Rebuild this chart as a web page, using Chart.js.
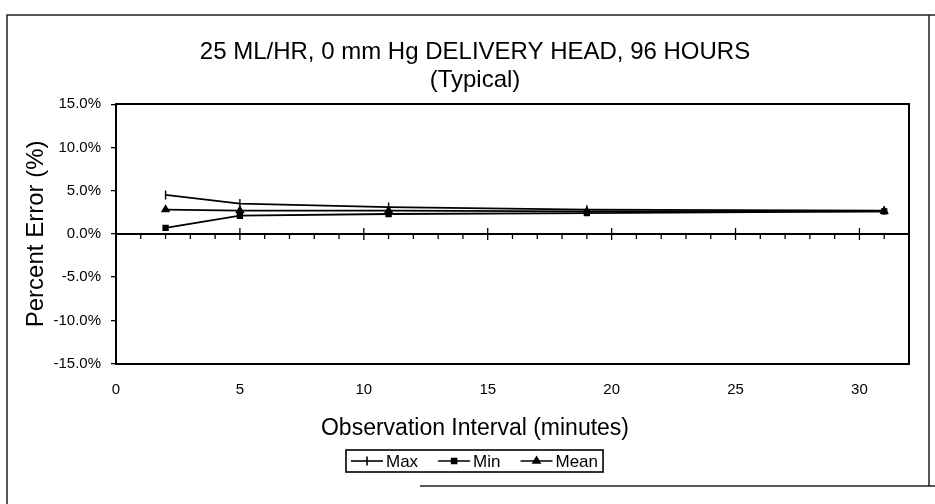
<!DOCTYPE html>
<html>
<head>
<meta charset="utf-8">
<title>25 ML/HR, 0 mm Hg Delivery Head, 96 Hours</title>
<script src="https://cdn.jsdelivr.net/npm/chart.js@4.4.1/dist/chart.umd.min.js"></script>
<style>
  html, body { margin: 0; padding: 0; background: #fff; }
  #wrap { position: relative; width: 935px; height: 504px; }
</style>
</head>
<body>
<div id="wrap"><canvas id="errorChart" width="935" height="504"></canvas></div>
<script>
// observation interval (minutes) and percent error per interval
const intervals = [2, 5, 11, 19, 31];
const errorMax = [4.5, 3.5, 3.1, 2.8, 2.7];
const errorMin = [0.7, 2.1, 2.3, 2.4, 2.6];
const errorMean = [2.8, 2.7, 2.7, 2.6, 2.6];
const seriesNames = ['Max', 'Min', 'Mean'];
const xTicks = [0, 5, 10, 15, 20, 25, 30];
const yTicks = [-15, -10, -5, 0, 5, 10, 15];
const titleLines = ['25 ML/HR, 0 mm Hg DELIVERY HEAD, 96 HOURS', '(Typical)'];

// marker look for each series, same order as seriesNames
const markers = [
    { pointStyle: 'line', rotation: 90, radius: 4.5 },
    { pointStyle: 'rect', rotation: 0, radius: 3.5 },
    { pointStyle: 'triangle', rotation: 0, radius: 4 }
];
const INK = '#000';
const FONT = '"Liberation Sans", Arial, Helvetica, sans-serif';

Chart.defaults.font.family = FONT;
Chart.defaults.color = INK;

function toPoints(values) {
    return intervals.map((x, i) => ({ x: x, y: values[i] }));
}

const datasets = [errorMax, errorMin, errorMean].map((values, i) => ({
    label: seriesNames[i],
    data: toPoints(values),
    borderColor: INK,
    backgroundColor: INK,
    pointBackgroundColor: INK,
    pointBorderColor: INK,
    borderWidth: 1.8,
    pointBorderWidth: 1.4,
    pointStyle: markers[i].pointStyle,
    pointRotation: markers[i].rotation,
    pointRadius: markers[i].radius,
    tension: 0
}));

// white page and the scanned outer frame
const pageFrame = {
    id: 'pageFrame',
    beforeDraw(chart) {
        const ctx = chart.ctx;
        ctx.save();
        ctx.fillStyle = '#fff';
        ctx.fillRect(0, 0, chart.width, chart.height);
        ctx.strokeStyle = '#222';
        ctx.lineWidth = 1.5;
        ctx.beginPath();
        ctx.moveTo(7, chart.height);
        ctx.lineTo(7, 15);
        ctx.lineTo(chart.width, 15);
        ctx.moveTo(929, 15);
        ctx.lineTo(929, 486);
        ctx.moveTo(420, 486);
        ctx.lineTo(chart.width, 486);
        ctx.stroke();
        ctx.restore();
    }
};

// x axis line crossing at 0% with minor ticks every minute
const zeroAxis = {
    id: 'zeroAxis',
    beforeDatasetsDraw(chart) {
        const { ctx, chartArea, scales } = chart;
        const y0 = scales.y.getPixelForValue(0);
        ctx.save();
        ctx.strokeStyle = INK;
        ctx.lineWidth = 2;
        ctx.beginPath();
        ctx.moveTo(chartArea.left, y0);
        ctx.lineTo(chartArea.right, y0);
        ctx.stroke();
        ctx.lineWidth = 1.3;
        ctx.beginPath();
        for (let v = scales.x.min + 1; v < scales.x.max; v++) {
            const px = scales.x.getPixelForValue(v);
            if (v % 5 === 0) {
                ctx.moveTo(px, y0 - 6);
                ctx.lineTo(px, y0 + 6);
            } else {
                ctx.moveTo(px, y0);
                ctx.lineTo(px, y0 + 5);
            }
        }
        ctx.stroke();
        ctx.restore();
    }
};

function drawMarker(ctx, m, x, y) {
    if (Chart.helpers && Chart.helpers.drawPoint) {
        Chart.helpers.drawPoint(ctx, { pointStyle: m.pointStyle, rotation: m.rotation, radius: m.radius, borderWidth: 1.2 }, x, y);
        return;
    }
    ctx.beginPath();
    ctx.arc(x, y, m.radius, 0, Math.PI * 2);
    ctx.fill();
}

// boxed legend below the axis title: line + marker + name
const boxedLegend = {
    id: 'boxedLegend',
    afterDraw(chart) {
        const ctx = chart.ctx;
        const lineLen = 32, gap = 3, spacing = 20, pad = 5;
        const top = 450, h = 22;
        ctx.save();
        ctx.font = '17px ' + FONT;
        const widths = seriesNames.map(n => ctx.measureText(n).width);
        const total = pad * 2 + widths.reduce((a, w) => a + w + lineLen + gap, 0) + spacing * (seriesNames.length - 1);
        const center = (chart.options.layout.padding.left + chart.width) / 2;
        const left = Math.round(center - total / 2);
        ctx.strokeStyle = INK;
        ctx.fillStyle = INK;
        ctx.lineWidth = 1.6;
        ctx.strokeRect(left, top, total, h);
        const cy = top + h / 2;
        let x = left + pad;
        ctx.textBaseline = 'middle';
        ctx.textAlign = 'left';
        seriesNames.forEach((name, i) => {
            ctx.lineWidth = 1.6;
            ctx.beginPath();
            ctx.moveTo(x, cy);
            ctx.lineTo(x + lineLen, cy);
            ctx.stroke();
            drawMarker(ctx, markers[i], x + lineLen / 2, cy);
            x += lineLen + gap;
            ctx.fillText(name, x, cy + 1);
            x += widths[i] + spacing;
        });
        ctx.restore();
    }
};

new Chart(document.getElementById('errorChart'), {
    type: 'line',
    data: { datasets: datasets },
    options: {
        responsive: false,
        animation: false,
        devicePixelRatio: 1,
        layout: { padding: { left: 15, right: 0, top: 0, bottom: 0 } },
        scales: {
            x: {
                type: 'linear',
                position: 'bottom',
                min: 0,
                max: 32,
                afterBuildTicks: s => { s.ticks = xTicks.map(v => ({ value: v })); },
                afterFit: s => { s.height = 50.8; },
                ticks: { font: { size: 15 }, padding: 17, color: INK, callback: v => String(v) },
                grid: { display: false, drawTicks: false },
                border: { display: true, color: INK, width: 2 }
            },
            x2: {
                type: 'linear',
                position: 'top',
                display: true,
                ticks: { display: false },
                grid: { display: false, drawTicks: false },
                border: { display: true, color: INK, width: 2 }
            },
            y: {
                position: 'left',
                min: -15,
                max: 15,
                afterBuildTicks: s => { s.ticks = yTicks.map(v => ({ value: v })); },
                afterFit: s => { s.width = 101; },
                ticks: { font: { size: 15 }, padding: 10, color: INK, callback: v => v.toFixed(1) + '%' },
                grid: { display: true, drawOnChartArea: false, drawTicks: true, tickLength: 5, color: INK, lineWidth: 1.3 },
                border: { display: true, color: INK, width: 2 },
                title: { display: true, text: 'Percent Error (%)', font: { size: 24 }, color: INK, padding: { top: 7, bottom: 0 } }
            },
            y2: {
                position: 'right',
                display: true,
                afterFit: s => { s.width = 26; },
                ticks: { display: false },
                grid: { display: false, drawTicks: false },
                border: { display: true, color: INK, width: 2 }
            }
        },
        plugins: {
            legend: { display: false },
            tooltip: { enabled: false },
            title: {
                display: true,
                text: titleLines,
                color: INK,
                font: { size: 24, weight: 'normal', lineHeight: 1.17 },
                padding: { top: 38, bottom: 10 }
            },
            subtitle: {
                display: true,
                position: 'bottom',
                text: 'Observation Interval (minutes)',
                color: INK,
                font: { size: 23, weight: 'normal', lineHeight: 1.2 },
                padding: { top: 0, bottom: 62 }
            }
        }
    },
    plugins: [pageFrame, zeroAxis, boxedLegend]
});
</script>
</body>
</html>
